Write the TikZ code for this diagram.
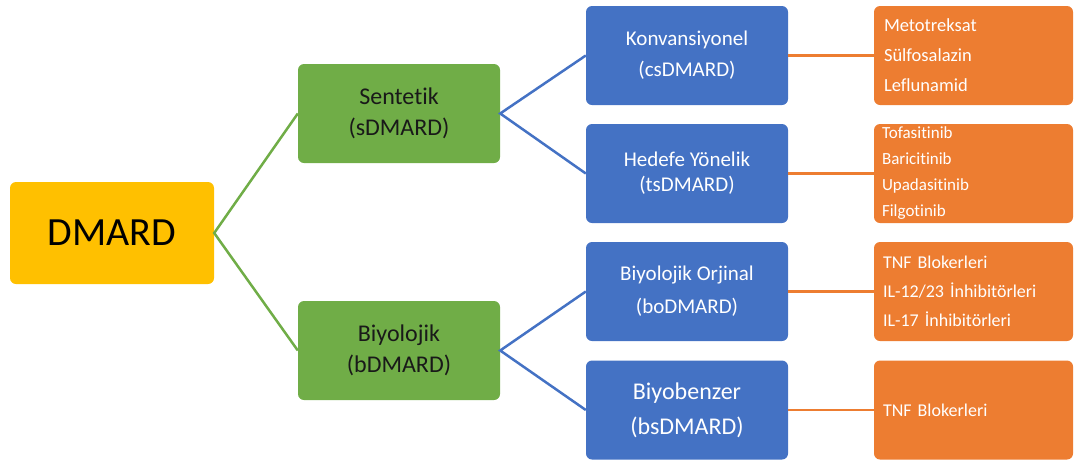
\documentclass[tikz,border=0pt]{standalone}
\usepackage{fontspec}
\setmainfont{Carlito}[Ligatures=NoCommon]
\usepackage{tikz}
\definecolor{SariKok}{RGB}{255,192,0}
\definecolor{YesilDal}{RGB}{112,173,71}
\definecolor{MaviDal}{RGB}{68,114,196}
\definecolor{TuruncuIlac}{RGB}{237,125,49}

\begin{document}
\begin{tikzpicture}[x=1pt,y=-1pt,
  kutu/.style={rounded corners=6pt,inner sep=0pt,minimum width=202pt,minimum height=99pt,align=center},
  yesil/.style={kutu,fill=YesilDal,text=black!90},
  mavi/.style={kutu,fill=MaviDal,text=white},
  ilac/.style={kutu,fill=TuruncuIlac,text=white,minimum width=199pt,text width=179pt,align=left,inner xsep=10pt},
  dal/.style={line width=2.5pt}]
  \useasboundingbox (0,0) rectangle (1074,459);

  % kok
  \node[kutu,fill=SariKok,minimum width=204pt,minimum height=102pt,font=\fontsize{40}{46}\selectfont] (dmard) at (112,233) {DMARD};

  % sentetik / biyolojik
  \node[yesil,font=\fontsize{24}{31}\selectfont] (sentetik) at (399,113.5) {Sentetik\\(sDMARD)};
  \node[yesil,font=\fontsize{24}{31}\selectfont] (biyolojik) at (399,350.5) {Biyolojik\\(bDMARD)};

  % alt gruplar
  \node[mavi,font=\fontsize{21}{31}\selectfont] (konv) at (687,55.5) {Konvansiyonel\\(csDMARD)};
  \node[mavi,font=\fontsize{21}{25}\selectfont] (hedefe) at (687,173.5) {Hedefe Yönelik\\(tsDMARD)};
  \node[mavi,font=\fontsize{21}{33}\selectfont] (orjinal) at (687,291.5) {Biyolojik Orjinal\\(boDMARD)};
  \node[mavi,font=\fontsize{24}{35}\selectfont] (benzer) at (687,410) {Biyobenzer\\(bsDMARD)};

  % ilaclar
  \node[ilac,font=\fontsize{18.5}{30}\selectfont] (ilac1) at (973.5,55.5) {Metotreksat\\Sülfosalazin\\Leflunamid};
  \node[ilac,inner xsep=8pt,text width=183pt,font=\fontsize{17}{26}\selectfont] (ilac2) at (973.5,173.5) {Tofasitinib\\Baricitinib\\Upadasitinib\\Filgotinib};
  \node[ilac,inner xsep=9pt,text width=181pt,font=\fontsize{18}{29}\selectfont] (ilac3) at (973.5,291.5) {TNF Blokerleri\\IL-12/23 İnhibitörleri\\IL-17 İnhibitörleri};
  \node[ilac,inner xsep=9pt,text width=181pt,font=\fontsize{18}{29}\selectfont] (ilac4) at (973.5,410) {TNF Blokerleri};

  \draw[dal,YesilDal] (sentetik.west) -- (dmard.east) -- (biyolojik.west);
  \draw[dal,MaviDal] (konv.west) -- (sentetik.east) -- (hedefe.west);
  \draw[dal,MaviDal] (orjinal.west) -- (biyolojik.east) -- (benzer.west);
  \draw[dal,TuruncuIlac] (konv) -- (ilac1);
  \draw[dal,TuruncuIlac] (hedefe) -- (ilac2);
  \draw[dal,TuruncuIlac] (orjinal) -- (ilac3);
  \draw[dal,TuruncuIlac] (benzer) -- (ilac4);
\end{tikzpicture}
\end{document}
